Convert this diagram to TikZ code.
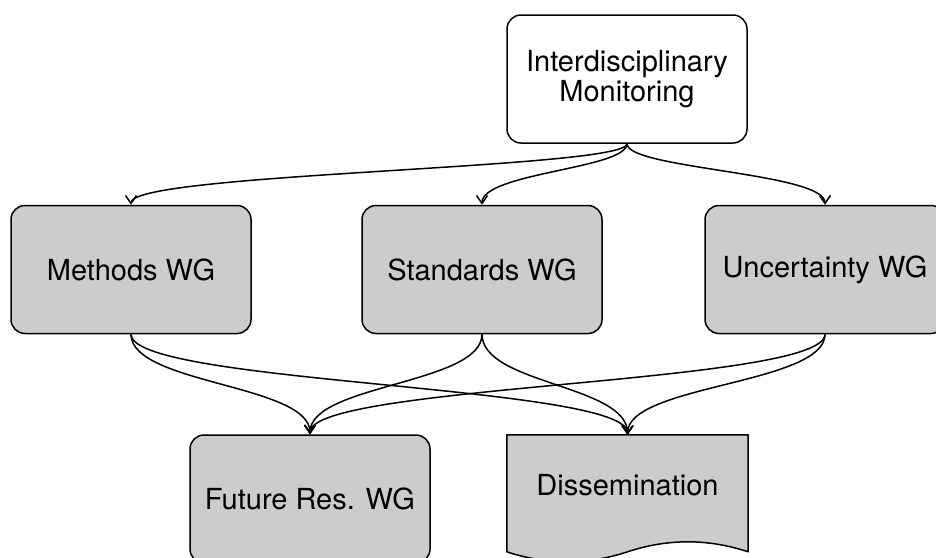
\documentclass[tikz,border=0pt]{standalone}
\usepackage{fontspec}
\setmainfont{TeX Gyre Heros}
\usetikzlibrary{arrows.meta,calc,backgrounds}

\definecolor{boxgray}{HTML}{CCCCCC}

\tikzset{
  basebox/.style={draw, line width=1.5pt, minimum width=240pt, minimum height=128pt,
    align=center, font=\fontsize{29}{30}\selectfont},
  monbox/.style={basebox, rounded corners=14pt, fill=white},
  wgbox/.style={basebox, rounded corners=14pt, fill=boxgray},
  docbox/.style={minimum width=241pt, minimum height=100pt, inner sep=0pt,
    font=\fontsize{29}{30}\selectfont},
  docline/.style={draw, line width=1.5pt, fill=boxgray, line join=round},
  link/.style={line width=1.5pt, -{Straight Barb[length=8pt,width=11pt]}}
}

\begin{document}
\begin{tikzpicture}[x=1pt,y=-1pt]
  \clip (0,0) rectangle (936,557);

  % boxes
  \node[monbox] (mon) at (627,79) {Interdisciplinary\\Monitoring};
  \node[wgbox] (meth) at (131,269.5) {Methods WG};
  \node[wgbox] (stand) at (482,269.5) {Standards WG};
  \node[wgbox] (unc) at (825,269.5) {Uncertainty WG};
  \node[wgbox] (fut) at (310,499) {Future Res. WG};
  \node[docbox] (diss) at (627.5,485) {Dissemination};

  % document shape behind the text
  \begin{scope}[on background layer]
    \fill[white] (0,0) rectangle (936,557);
    \path[docline] (diss.north west) -- (diss.north east)
      -- ($(diss.north east)+(0,117)$)
      .. controls ($(diss.north east)+(-40.2,103.7)$) and ($(diss.north)+(40.2,103.7)$)
      .. ($(diss.north)+(0,117)$)
      .. controls ($(diss.north)+(-40.2,130.3)$) and ($(diss.north west)+(40.2,130.3)$)
      .. ($(diss.north west)+(0,117)$) -- cycle;
  \end{scope}

  % top level
  \draw[link] (mon.south) .. controls +(0,25) and +(0,-32) .. (meth.north);
  \draw[link] (mon.south) .. controls +(0,25) and +(0,-32) .. (stand.north);
  \draw[link] (mon.south) .. controls +(0,25) and +(0,-32) .. (unc.north);

  % working groups to outputs
  \draw[link] (meth.south) .. controls +(0,50) and +(0,-50) .. (fut.north);
  \draw[link] (meth.south) .. controls +(0,50) and +(0,-50) .. (diss.north);
  \draw[link] (stand.south) .. controls +(0,50) and +(0,-50) .. (fut.north);
  \draw[link] (stand.south) .. controls +(0,50) and +(0,-50) .. (diss.north);
  \draw[link] (unc.south) .. controls +(0,50) and +(0,-50) .. (fut.north);
  \draw[link] (unc.south) .. controls +(0,50) and +(0,-50) .. (diss.north);
\end{tikzpicture}
\end{document}
